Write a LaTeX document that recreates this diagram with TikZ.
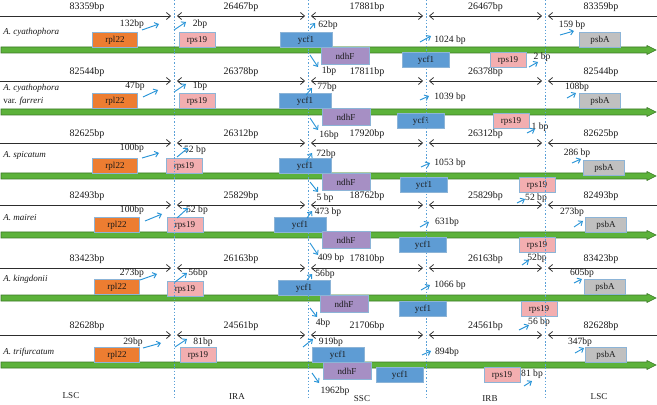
\documentclass[tikz,border=0pt]{standalone}
\usepackage{fontspec}
\setmainfont{Liberation Serif}
\usepackage{tikz}
\usetikzlibrary{arrows.meta,positioning,calc}
\definecolor{barfill}{RGB}{92,178,58}
\definecolor{barline}{RGB}{58,120,38}
\definecolor{rplcol}{RGB}{237,125,49}
\definecolor{rpscol}{RGB}{243,174,176}
\definecolor{ycfcol}{RGB}{94,156,212}
\definecolor{ndhcol}{RGB}{166,143,196}
\definecolor{psbcol}{RGB}{192,192,192}
\definecolor{geneedge}{RGB}{140,180,215}
\definecolor{ptrblue}{RGB}{40,148,215}
\definecolor{guide}{RGB}{90,160,215}
\definecolor{spanline}{RGB}{45,45,45}

\begin{document}
\begin{tikzpicture}[
    x=0.03cm, y=-0.03cm,
    lbl/.style={font=\fontsize{8.2}{9.5}\selectfont, inner sep=1pt, text=black!90},
    seglen/.style={lbl, font=\fontsize{8.5}{10}\selectfont, above=2.5pt},
    species/.style={lbl, anchor=west, font=\fontsize{7.7}{11}\selectfont\itshape, align=left},
    region/.style={lbl, font=\fontsize{7.7}{9}\selectfont},
    gene/.style={lbl, font=\fontsize{7.7}{9}\selectfont, draw=geneedge, line width=0.6pt, minimum height=0.43cm, inner sep=0pt},
    rpl/.style={gene, fill=rplcol, minimum width=1.35cm},
    rps/.style={gene, fill=rpscol, minimum width=1.08cm},
    ycfa/.style={gene, fill=ycfcol, minimum width=1.56cm},
    ycfb/.style={gene, fill=ycfcol, minimum width=1.41cm},
    ndh/.style={gene, fill=ndhcol, minimum width=1.44cm, minimum height=0.53cm},
    psb/.style={gene, fill=psbcol, minimum width=1.23cm},
    barb/.tip={Straight Barb[length=3.5pt, width=6pt]},
    segline/.style={spanline, line width=0.65pt, shorten <=2.5pt, shorten >=2.5pt},
    chrbar/.style={fill=barfill, draw=barline, line width=0.5pt},
    ptr/.style={-{Straight Barb[length=3pt, width=5pt]}, ptrblue, line width=0.8pt},
    guideline/.style={guide, line width=0.5pt, dash pattern=on 1.2pt off 1.6pt}
]
    \useasboundingbox (0,0) rectangle (657,405);

    % bars and junction spans, one per species
    \foreach \r/\y/\by/\lsc/\ir/\ssc in {1/16/50/83359/26467/17881, 2/81/112/82544/26378/17811, 3/143/176/82625/26312/17920, 4/205/235/82493/25829/18762, 5/268/298/83423/26163/17810, 6/335/365/82628/24561/21706}{
        \filldraw[chrbar] (1,\by-3) -- (647,\by-3) -- (647,\by-4.5) -- (656,\by) -- (647,\by+4.5) -- (647,\by+3) -- (1,\by+3) -- cycle;
        \coordinate (e0\r) at (0,\y);
        \coordinate (ja\r) at (174,\y);
        \coordinate (jb\r) at (308,\y);
        \coordinate (jc\r) at (426,\y);
        \coordinate (jd\r) at (545,\y);
        \coordinate (e1\r) at (657,\y);
        \draw[segline, shorten <=0pt, -barb] (e0\r) -- node[seglen] (la\r) {\lsc bp} (ja\r);
        \draw[segline, barb-barb] (ja\r) -- node[seglen] (lb\r) {\ir bp} (jb\r);
        \draw[segline, barb-barb] (jb\r) -- node[seglen] (lc\r) {\ssc bp} (jc\r);
        \draw[segline, barb-barb] (jc\r) -- node[seglen] (ld\r) {\ir bp} (jd\r);
        \draw[segline, shorten >=0pt, barb-] (jd\r) -- node[seglen] (le\r) {\lsc bp} (e1\r);
    }

    % A. cyathophora
    \node[species] (sp1) at (2,32) {A. cyathophora};
    \node[rpl] (rpl1) at (115,40) {rpl22};
    \node[rps] (rpsa1) at (197,40) {rps19};
    \node[ycfa] (ycfa1) at (306,40) {ycf1};
    \node[ndh] (ndh1) at (345,56) {ndhF};
    \node[ycfb] (ycfb1) at (426,60) {ycf1};
    \node[rps] (rpsb1) at (508,60) {rps19};
    \node[psb] (psb1) at (600,40) {psbA};
    \node[lbl] (bp1a) at (132,24) {132bp};
    \node[lbl] (bp1b) at (200,24) {2bp};
    \node[lbl] (bp1c) at (328,25) {62bp};
    \node[lbl] (bp1d) at (329,71) {1bp};
    \node[lbl] (bp1e) at (450,40) {1024 bp};
    \node[lbl] (bp1f) at (542,57) {2 bp};
    \node[lbl] (bp1g) at (572,25) {159 bp};
    \foreach \t/\tx/\ty/\dx/\dy in {a/142/30/17/-6, b/174/30/12/-8, c/310/29/5/-6, d/310/55/8/12, e/420/42/11/-6, f/529/67/9/-5, g/560/35/14/-4}{
        \coordinate (p1\t) at (\tx,\ty);
        \draw[ptr] (p1\t) -- ++(\dx,\dy);
    }

    % A. cyathophora var. farreri
    \node[species] (sp2) at (2,95) {A. cyathophora\\\textup{var.} farreri};
    \node[rpl] (rpl2) at (115,101) {rpl22};
    \node[rps] (rpsa2) at (197,101) {rps19};
    \node[ycfa] (ycfa2) at (305,101) {ycf1};
    \node[ndh] (ndh2) at (346,117) {ndhF};
    \node[ycfb] (ycfb2) at (421,121) {ycf1};
    \node[rps] (rpsb2) at (511,121) {rps19};
    \node[psb] (psb2) at (600,101) {psbA};
    \node[lbl] (bp2a) at (135,86) {47bp};
    \node[lbl] (bp2b) at (200,86) {1bp};
    \node[lbl] (bp2c) at (327,87) {77bp};
    \node[lbl] (bp2d) at (329,135) {16bp};
    \node[lbl] (bp2e) at (450,97) {1039 bp};
    \node[lbl] (bp2f) at (540,127) {1 bp};
    \node[lbl] (bp2g) at (577,87) {108bp};
    \foreach \t/\tx/\ty/\dx/\dy in {a/143/97/15/-7, b/174/92/12/-8, c/306/95/6/-7, d/310/118/8/12, e/420/100/9/-4, f/527/133/8/-4, g/567/98/9/-5}{
        \coordinate (p2\t) at (\tx,\ty);
        \draw[ptr] (p2\t) -- ++(\dx,\dy);
    }

    % A. spicatum
    \node[species] (sp3) at (2,155) {A. spicatum};
    \node[rpl] (rpl3) at (115,166) {rpl22};
    \node[rps] (rpsa3) at (184,166) {rps19};
    \node[ycfa] (ycfa3) at (305,166) {ycf1};
    \node[ndh] (ndh3) at (346,182) {ndhF};
    \node[ycfb] (ycfb3) at (424,185) {ycf1};
    \node[rps] (rpsb3) at (537,185) {rps19};
    \node[psb] (psb3) at (604,168) {psbA};
    \node[lbl] (bp3a) at (132,148) {100bp};
    \node[lbl] (bp3b) at (195,150) {52 bp};
    \node[lbl] (bp3c) at (326,154) {72bp};
    \node[lbl] (bp3d) at (325,198) {5 bp};
    \node[lbl] (bp3e) at (450,163) {1053 bp};
    \node[lbl] (bp3f) at (536,198) {52 bp};
    \node[lbl] (bp3g) at (577,153) {286 bp};
    \foreach \t/\tx/\ty/\dx/\dy in {a/142/158/17/-5, b/177/157/11/-9, c/306/162/6/-9, d/310/182/8/10, e/421/167/9/-4, f/517/203/8/-4, g/572/163/9/-4}{
        \coordinate (p3\t) at (\tx,\ty);
        \draw[ptr] (p3\t) -- ++(\dx,\dy);
    }

    % A. mairei
    \node[species] (sp4) at (2,218) {A. mairei};
    \node[rpl] (rpl4) at (117,225) {rpl22};
    \node[rps] (rpsa4) at (185,225) {rps19};
    \node[ycfa] (ycfa4) at (300,225) {ycf1};
    \node[ndh] (ndh4) at (346,240) {ndhF};
    \node[ycfb] (ycfb4) at (423,245) {ycf1};
    \node[rps] (rpsb4) at (537,245) {rps19};
    \node[psb] (psb4) at (606,225) {psbA};
    \node[lbl] (bp4a) at (132,210) {100bp};
    \node[lbl] (bp4b) at (197,210) {52 bp};
    \node[lbl] (bp4c) at (328,212) {473 bp};
    \node[lbl] (bp4d) at (331,258) {409 bp};
    \node[lbl] (bp4e) at (447,222) {631bp};
    \node[lbl] (bp4f) at (537,258) {52bp};
    \node[lbl] (bp4g) at (572,212) {273bp};
    \foreach \t/\tx/\ty/\dx/\dy in {a/145/221/17/-7, b/177/218/11/-10, c/307/218/5/-7, d/310/243/8/12, e/420/227/9/-5, f/522/265/7/-5, g/574/227/9/-6}{
        \coordinate (p4\t) at (\tx,\ty);
        \draw[ptr] (p4\t) -- ++(\dx,\dy);
    }

    % A. kingdonii
    \node[species] (sp5) at (2,279) {A. kingdonii};
    \node[rpl] (rpl5) at (117,287) {rpl22};
    \node[rps] (rpsa5) at (185,289) {rps19};
    \node[ycfa] (ycfa5) at (304,288) {ycf1};
    \node[ndh] (ndh5) at (344,304) {ndhF};
    \node[ycfb] (ycfb5) at (423,309) {ycf1};
    \node[rps] (rpsb5) at (539,309) {rps19};
    \node[psb] (psb5) at (605,287) {psbA};
    \node[lbl] (bp5a) at (132,273) {273bp};
    \node[lbl] (bp5b) at (198,273) {56bp};
    \node[lbl] (bp5c) at (325,274) {56bp};
    \node[lbl] (bp5d) at (323,323) {4bp};
    \node[lbl] (bp5e) at (450,285) {1066 bp};
    \node[lbl] (bp5f) at (539,322) {56 bp};
    \node[lbl] (bp5g) at (582,273) {605bp};
    \foreach \t/\tx/\ty/\dx/\dy in {a/140/280/17/-6, b/175/282/12/-9, c/307/280/5/-6, d/310/308/7/9, e/421/290/9/-5, f/519/330/10/-5, g/574/283/8/-4}{
        \coordinate (p5\t) at (\tx,\ty);
        \draw[ptr] (p5\t) -- ++(\dx,\dy);
    }

    % A. trifurcatum
    \node[species] (sp6) at (2,352) {A. trifurcatum};
    \node[rpl] (rpl6) at (117,355) {rpl22};
    \node[rps] (rpsa6) at (198,355) {rps19};
    \node[ycfa] (ycfa6) at (338,355) {ycf1};
    \node[ndh] (ndh6) at (347,371) {ndhF};
    \node[ycfb] (ycfb6) at (400,375) {ycf1};
    \node[rps] (rpsb6) at (502,375) {rps19};
    \node[psb] (psb6) at (606,355) {psbA};
    \node[lbl] (bp6a) at (133,342) {29bp};
    \node[lbl] (bp6b) at (203,342) {81bp};
    \node[lbl] (bp6c) at (331,342) {919bp};
    \node[lbl] (bp6d) at (335,391) {1962bp};
    \node[lbl] (bp6e) at (447,352) {894bp};
    \node[lbl] (bp6f) at (532,374) {81 bp};
    \node[lbl] (bp6g) at (580,342) {347bp};
    \foreach \t/\tx/\ty/\dx/\dy in {a/143/348/18/-5, b/175/347/12/-8, c/303/347/10/-8, d/312/373/7/10, e/422/355/9/-4, f/524/386/8/-5, g/575/353/9/-5}{
        \coordinate (p6\t) at (\tx,\ty);
        \draw[ptr] (p6\t) -- ++(\dx,\dy);
    }

    % Regions
    \node[region] (lsca) at (71,396) {LSC};
    \node[region] (ira) at (237,397) {IRA};
    \node[region] (ssc) at (362,399) {SSC};
    \node[region] (irb) at (490,399) {IRB};
    \node[region] (lscb) at (599,397) {LSC};

    % Junction guides
    \foreach \gx in {174,308,426,545}
        \draw[guideline] (\gx,0) -- (\gx,398);

\end{tikzpicture}
\end{document}
